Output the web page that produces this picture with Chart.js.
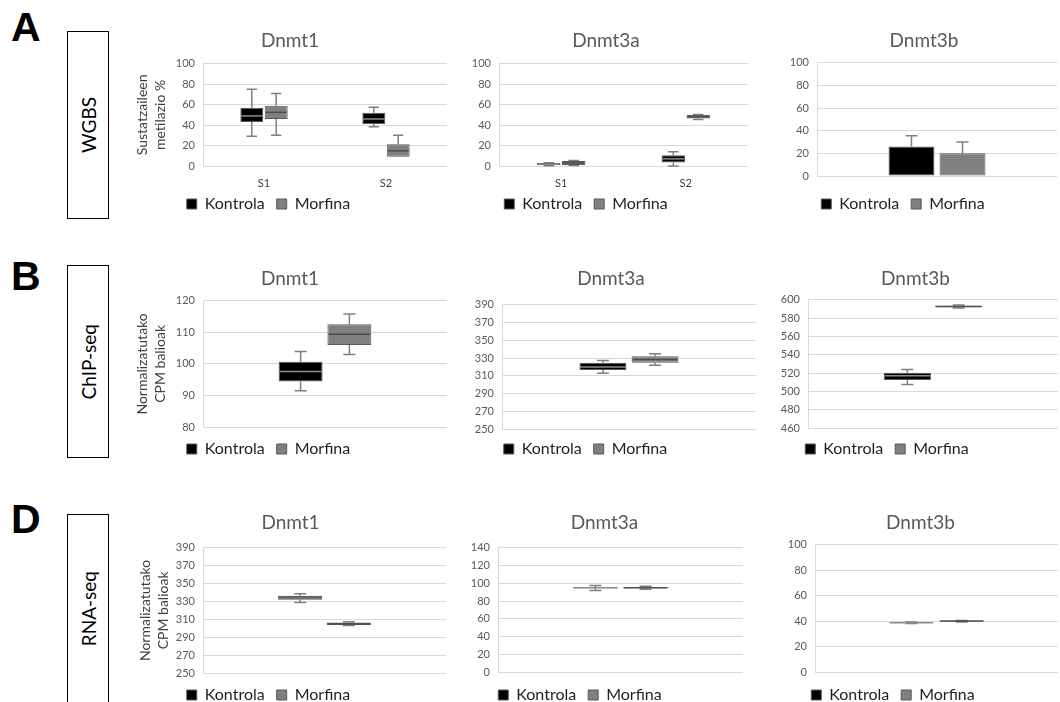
<!DOCTYPE html>
<html>
<head>
<meta charset="utf-8">
<script src="https://cdn.jsdelivr.net/npm/chart.js@4.4.1/dist/chart.umd.min.js"></script>
<style>
  body { margin: 0; width: 1060px; height: 702px; overflow: hidden; background: #fff; position: relative; font-family: Lato, sans-serif; }
  .panel { position: absolute; }
  .letter { position: absolute; left: 11px; font: bold 41px "Liberation Sans", Arial, sans-serif; line-height: 41px; color: #000; }
  .rowlab { position: absolute; left: 67px; width: 42px; border: 1.5px solid #000; box-sizing: border-box; display: flex; align-items: center; justify-content: center; }
  .rowlab span { writing-mode: vertical-rl; transform: rotate(180deg); font: 19px Lato, sans-serif; color: #000; }
</style>
</head>
<body>
<div class="letter" style="top:7px">A</div>
<div class="letter" style="top:256px">B</div>
<div class="letter" style="top:499px">D</div>
<div class="rowlab" style="top:31px;height:188px"><span>WGBS</span></div>
<div class="rowlab" style="top:265px;height:193px"><span>ChIP-seq</span></div>
<div class="rowlab" style="top:514px;height:190px"><span>RNA-seq</span></div>

<script>
Chart.defaults.font.family = 'Lato, "Open Sans", sans-serif';
Chart.defaults.animation = false;

// --- data ---
const groups = ['Kontrola', 'Morfina'];
const sampleCats = ['S1', 'S2'];
const singleCat = [''];
const wgbsYTitle = ['Sustatzaileen', 'metilazio %'];
const cpmYTitle = ['Normalizatutako', 'CPM balioak'];

// y axis: [min, max, step]
const wgbsRange = [0, 100, 20];
const chipDnmt1Range = [80, 120, 5];
const chipDnmt3aRange = [250, 390, 20];
const chipDnmt3bRange = [460, 600, 20];
const rnaDnmt1Range = [250, 390, 20];
const rnaDnmt3aRange = [0, 140, 20];
const rnaDnmt3bRange = [0, 100, 20];

// boxes: [min, q1, median, q3, max]
const wgbsDnmt1Kontrola = [[29, 43, 49, 57, 75], [38.5, 41, 46, 52, 57.5]];
const wgbsDnmt1Morfina = [[30, 46, 52.5, 59, 71], [9, 9, 14.8, 21.4, 30]];
const wgbsDnmt3aKontrola = [[0.3, 0.8, 1.8, 3, 3.3], [0, 3.5, 7, 10.5, 14]];
const wgbsDnmt3aMorfina = [[0.5, 1, 3, 5, 5.3], [45.4, 46.5, 48, 49.8, 50.5]];
// bar with upper error only
const wgbsDnmt3bKontrola = [[0, 0, null, 26, 35.5]];
const wgbsDnmt3bMorfina = [[0, 0, null, 20, 30]];

const chipDnmt1Kontrola = [[91.5, 94.4, 97.6, 100.7, 103.9]];
const chipDnmt1Morfina = [[103, 106, 109.4, 112.6, 115.8]];
const chipDnmt3aKontrola = [[312.8, 316.5, 320, 324.7, 327.3]];
const chipDnmt3aMorfina = [[322, 324.7, 328.4, 332, 334.8]];
const chipDnmt3bKontrola = [[507.6, 512.3, 517, 520.3, 524]];
const chipDnmt3bMorfina = [[591, 591.8, 592.6, 593.4, 594.2]];

const rnaDnmt1Kontrola = [[328.8, 331.8, 334, 336.3, 338.6]];
const rnaDnmt1Morfina = [[303, 303.6, 305, 306.4, 307.2]];
const rnaDnmt3aKontrola = [[92, 94.3, 94.9, 95.5, 97.6]];
const rnaDnmt3aMorfina = [[93.3, 94.5, 94.9, 95.3, 96.6]];
const rnaDnmt3bKontrola = [[38.2, 38.5, 38.7, 39, 39.3]];
const rnaDnmt3bMorfina = [[39.4, 39.7, 40, 40.3, 40.5]];

// --- layout of the nine panels ---
const panels = [
  { title: 'Dnmt1', cats: sampleCats, kontrola: wgbsDnmt1Kontrola, morfina: wgbsDnmt1Morfina, range: wgbsRange, yTitle: wgbsYTitle, frame: [133, 20, 447, 230], yw: 70, xh: 26, tpad: [9, 12], dx: -21.5, dy: -8, cat: 0.4, bar: 0.94, ytp: 0 },
  { title: 'Dnmt3a', cats: sampleCats, kontrola: wgbsDnmt3aKontrola, morfina: wgbsDnmt3aMorfina, range: wgbsRange, frame: [464, 20, 748, 230], yw: 35, xh: 26, tpad: [9, 12], dx: -20, dy: -8, cat: 0.4, bar: 0.94 },
  { title: 'Dnmt3b', cats: singleCat, kontrola: wgbsDnmt3bKontrola, morfina: wgbsDnmt3bMorfina, range: wgbsRange, frame: [791, 20, 1057, 222], yw: 26, xh: 8, tpad: [9, 11], dx: -21, cat: 0.425, bar: 0.9 },
  { title: 'Dnmt1', cats: singleCat, kontrola: chipDnmt1Kontrola, morfina: chipDnmt1Morfina, range: chipDnmt1Range, yTitle: cpmYTitle, frame: [133, 258, 447, 467], yw: 70, xh: 2, tpad: [9, 11], dx: -21.5, cat: 0.4, bar: 0.9, ytp: 0 },
  { title: 'Dnmt3a', cats: singleCat, kontrola: chipDnmt3aKontrola, morfina: chipDnmt3aMorfina, range: chipDnmt3aRange, frame: [466, 258, 756, 467], yw: 36, xh: 0, tpad: [9, 15], dx: -25.5, cat: 0.41, bar: 0.9 },
  { title: 'Dnmt3b', cats: singleCat, kontrola: chipDnmt3bKontrola, morfina: chipDnmt3bMorfina, range: chipDnmt3bRange, frame: [773, 258, 1058, 467], yw: 35, xh: 1, tpad: [9, 10], dx: -28.5, cat: 0.41, bar: 0.92 },
  { title: 'Dnmt1', cats: singleCat, kontrola: rnaDnmt1Kontrola, morfina: rnaDnmt1Morfina, range: rnaDnmt1Range, yTitle: cpmYTitle, frame: [135, 502, 446, 713], yw: 68, xh: 2, tpad: [9, 14], dx: -22, cat: 0.4, bar: 0.91, ytp: 1 },
  { title: 'Dnmt3a', cats: singleCat, kontrola: rnaDnmt3aKontrola, morfina: rnaDnmt3aMorfina, range: rnaDnmt3aRange, frame: [466, 502, 743, 713], yw: 32, xh: 3, tpad: [9, 14], dx: -24.5, cat: 0.41, bar: 0.91 },
  { title: 'Dnmt3b', cats: singleCat, kontrola: rnaDnmt3bKontrola, morfina: rnaDnmt3bMorfina, range: rnaDnmt3bRange, frame: [783, 502, 1058, 713], yw: 32, xh: 3, tpad: [9, 11], dx: -27.5, cat: 0.415, bar: 0.9 },
];

// whiskers behind the boxes, medians on top
const boxWhiskers = {
  id: 'boxWhiskers',
  beforeDatasetsDraw(chart) {
    const y = chart.scales.y, ctx = chart.ctx;
    chart.data.datasets.forEach((ds, i) => {
      chart.getDatasetMeta(i).data.forEach((bar, j) => {
        const [min, q1, , q3, max] = ds.stats[j];
        const cap = Math.min(12, bar.width * 0.45) / 2;
        ctx.save();
        ctx.strokeStyle = ds.whiskerColor;
        ctx.lineWidth = 1.5;
        ctx.beginPath();
        [[q3, max], [q1, min]].forEach(([from, to]) => {
          if (to === from) return;
          const y0 = y.getPixelForValue(from), y1 = y.getPixelForValue(to);
          ctx.moveTo(bar.x, y0); ctx.lineTo(bar.x, y1);
          ctx.moveTo(bar.x - cap, y1); ctx.lineTo(bar.x + cap, y1);
        });
        ctx.stroke();
        ctx.restore();
      });
    });
  },
  afterDatasetsDraw(chart) {
    const y = chart.scales.y, ctx = chart.ctx;
    chart.data.datasets.forEach((ds, i) => {
      chart.getDatasetMeta(i).data.forEach((bar, j) => {
        const med = ds.stats[j][2];
        if (med === null) return;
        const py = y.getPixelForValue(med);
        ctx.save();
        ctx.strokeStyle = ds.medianColor;
        ctx.lineWidth = 1.5;
        ctx.beginPath();
        ctx.moveTo(bar.x - bar.width / 2 + 1, py);
        ctx.lineTo(bar.x + bar.width / 2 - 1, py);
        ctx.stroke();
        ctx.restore();
      });
    });
  }
};

// move the legend box (Excel centres it over a wider chart box)
const legendShift = {
  id: 'legendShift',
  afterLayout(chart, args, opts) {
    const lg = chart.legend;
    if (!lg) return;
    lg.left += opts.dx || 0;
    lg.right += opts.dx || 0;
    lg.top += opts.dy || 0;
    lg.bottom += opts.dy || 0;
  }
};

function makeChart(p) {
  const [l, t, r, b] = p.frame;
  const wrap = document.createElement('div');
  wrap.className = 'panel';
  Object.assign(wrap.style, { left: l + 'px', top: t + 'px', width: (r - l) + 'px', height: (b - t) + 'px' });
  const canvas = document.createElement('canvas');
  wrap.appendChild(canvas);
  document.body.appendChild(wrap);

  const common = { borderWidth: 1, borderSkipped: false, categoryPercentage: p.cat, barPercentage: p.bar };

  return new Chart(canvas, {
    type: 'bar',
    data: {
      labels: p.cats,
      datasets: [
        { label: groups[0], data: p.kontrola.map(s => [s[1], s[3]]), stats: p.kontrola,
          backgroundColor: '#000000', borderColor: '#595959', medianColor: '#8c8c8c', whiskerColor: '#7f7f7f', ...common },
        { label: groups[1], data: p.morfina.map(s => [s[1], s[3]]), stats: p.morfina,
          backgroundColor: '#808080', borderColor: '#595959', medianColor: '#4d4d4d', whiskerColor: '#7f7f7f', ...common },
      ],
    },
    options: {
      responsive: true,
      maintainAspectRatio: false,
      layout: { padding: 0 },
      plugins: {
        title: { display: true, text: p.title, color: '#595959', font: { size: 19, weight: 'normal' }, padding: { top: p.tpad[0], bottom: p.tpad[1] } },
        legend: {
          position: 'bottom',
          labels: { boxWidth: 10, boxHeight: 10, padding: 12, color: '#1f1f1f', font: { size: 16 } },
        },
        tooltip: { enabled: false },
        legendShift: { dx: p.dx, dy: p.dy || 0 },
      },
      scales: {
        x: {
          grid: { display: false, drawTicks: false },
          border: { display: true, color: '#d9d9d9' },
          ticks: { display: p.cats.length > 1, color: '#404040', padding: 11, font: { size: 11 } },
          afterFit: (scale) => { scale.height = p.xh; },
        },
        y: {
          min: p.range[0],
          max: p.range[1],
          grid: { color: '#d9d9d9', drawTicks: false },
          border: { display: true, color: '#d9d9d9' },
          ticks: { stepSize: p.range[2], color: '#595959', padding: 8, font: { size: 11 } },
          title: {
            display: !!p.yTitle,
            text: p.yTitle || '',
            color: '#404040',
            font: { size: 14, lineHeight: 1.3 },
            padding: { top: p.ytp || 0, bottom: 0 },
          },
          afterFit: (scale) => { scale.width = p.yw; },
        },
      },
    },
    plugins: [boxWhiskers, legendShift],
  });
}

panels.forEach(makeChart);
</script>
</body>
</html>
